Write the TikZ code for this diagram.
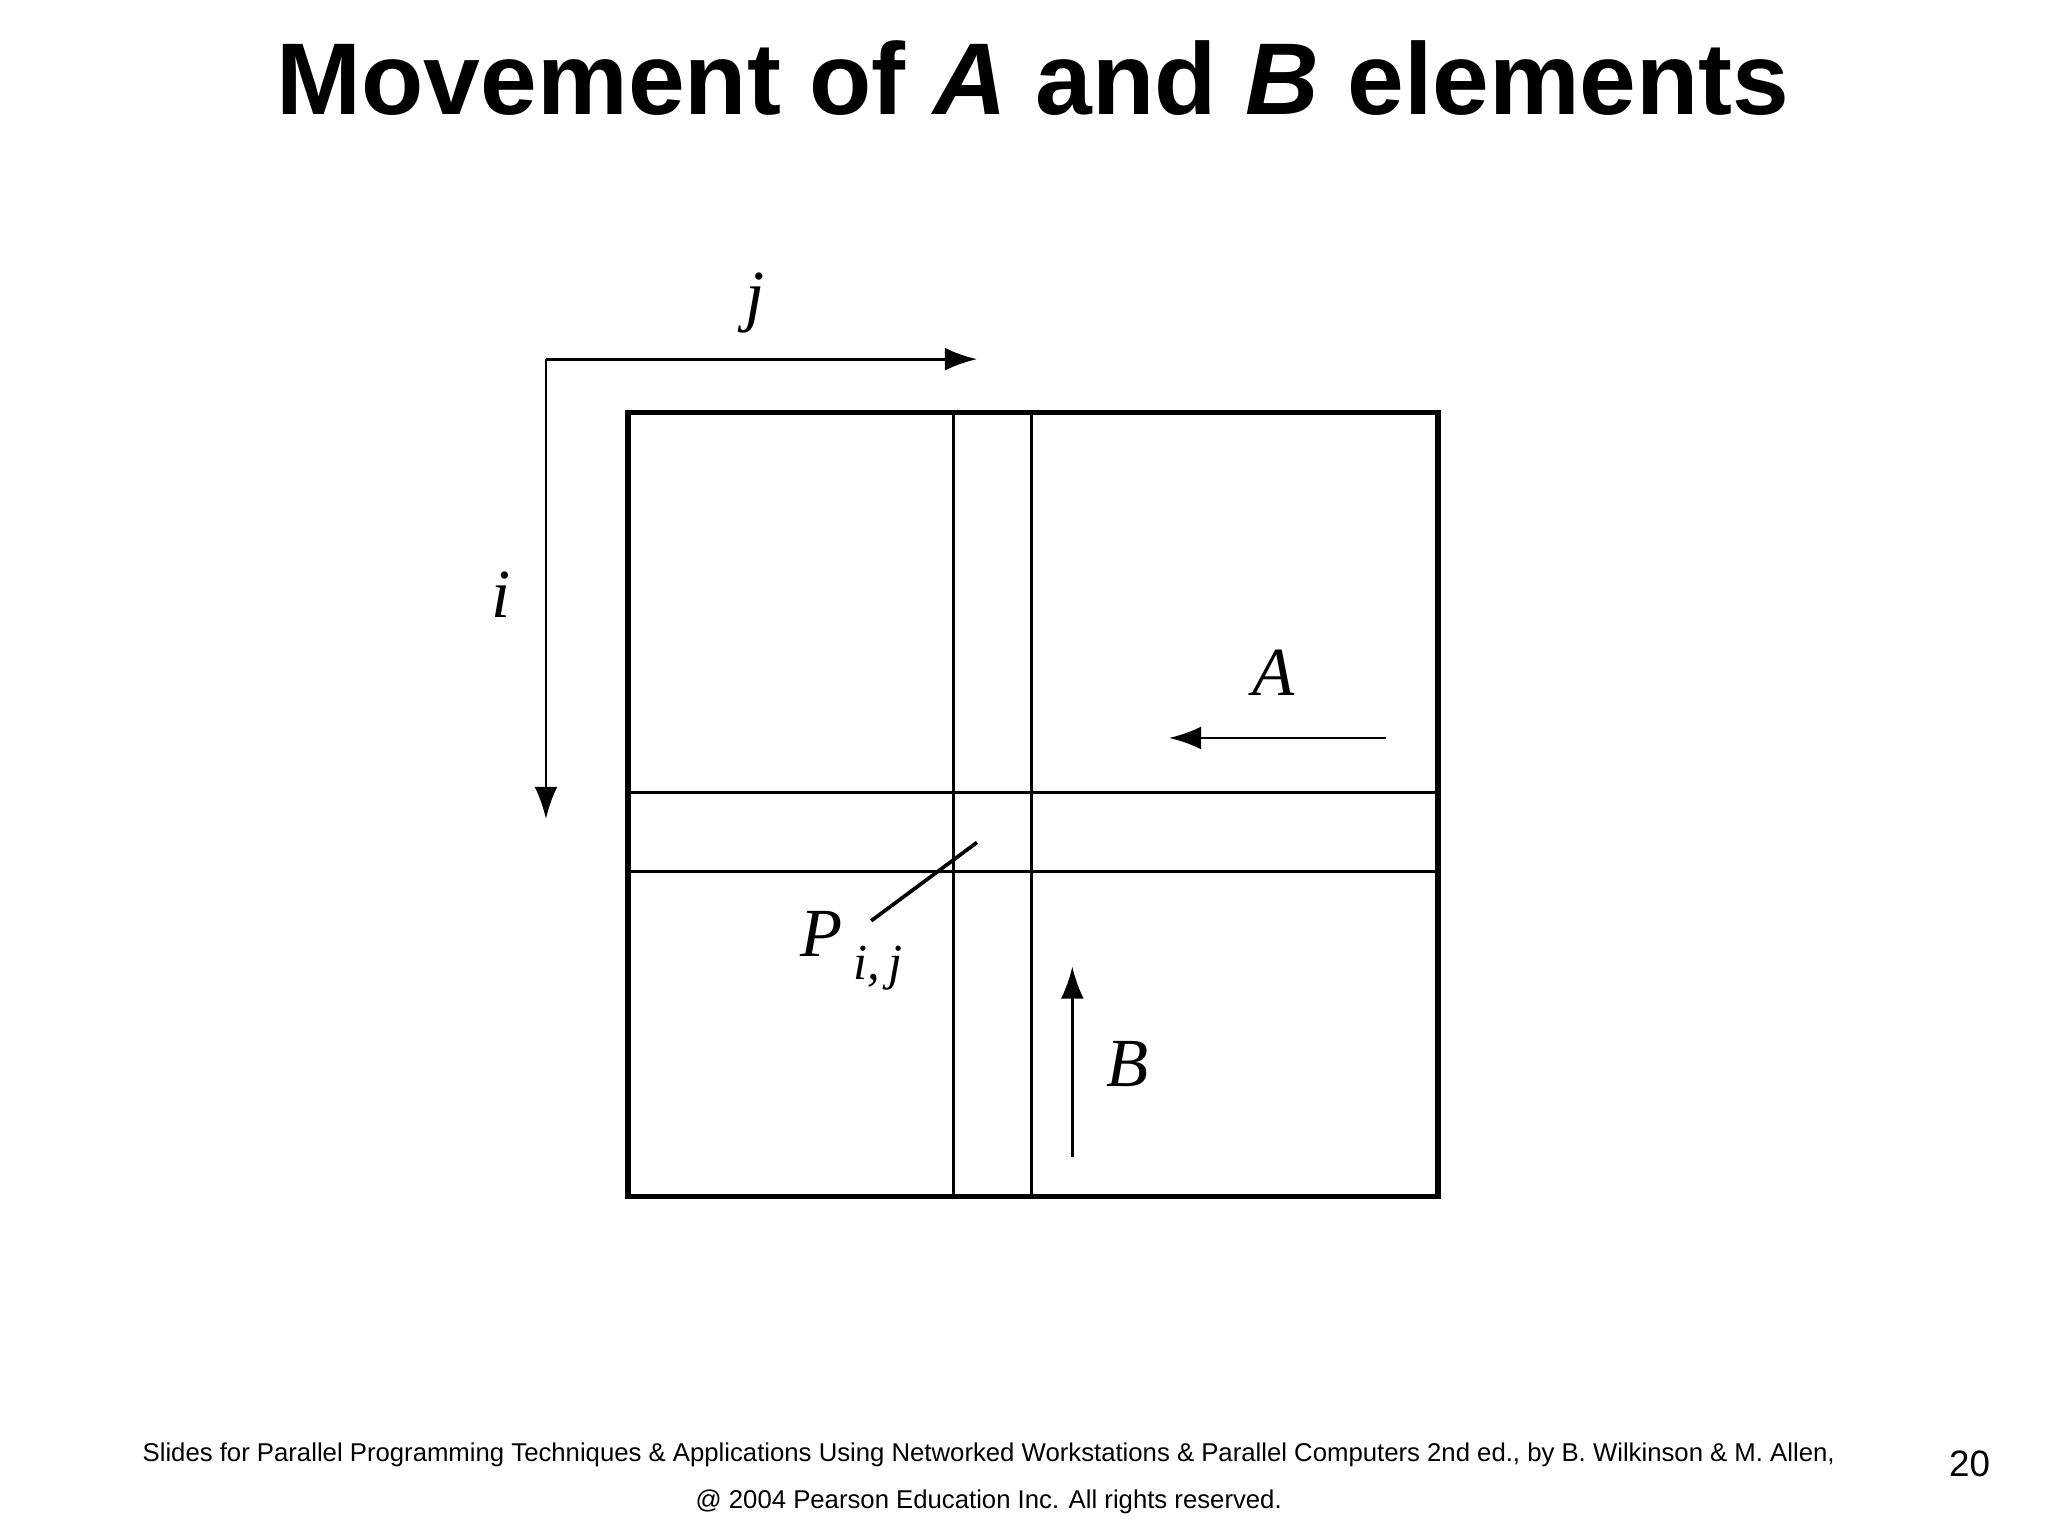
\documentclass[tikz,border=0pt]{standalone}
\usepackage{fontspec}
\setmainfont{Liberation Sans}
\newfontfamily\lblfont{Liberation Serif}
\usetikzlibrary{arrows.meta}
\begin{document}
\begin{tikzpicture}[x=0.01cm,y=-0.01cm,
  arr/.style={line width=0.6pt,-{Latex[length=7pt,width=5pt]}},
  lbl/.style={font=\lblfont\fontsize{15}{15}\selectfont\itshape,inner sep=0pt}]
\useasboundingbox (0,0) rectangle (1568,1176);
\node[font=\fontsize{22.2}{26}\selectfont\bfseries] (title) at (791,60) {Movement of \textit{A} and \textit{B} elements};
% grid
\draw[line width=1.2pt] (481,316) rectangle (1101,916);
\draw[line width=0.6pt] (730,316) -- (730,916) (790,316) -- (790,916)
  (481,607) -- (1101,607) (481,667) -- (1101,667);
% axes
\coordinate (o) at (418,275);
\coordinate (je) at (748,275);
\coordinate (ie) at (418,627);
\draw[arr] (o) -- (je);
\draw[arr] (o) -- (ie);
\node[lbl] (j) at (578,232) {j};
\node[lbl] (i) at (384,455) {i};
% A
\coordinate (as) at (1061,565); \coordinate (ae) at (895,565);
\draw[arr] (as) -- (ae);
\node[lbl] (A) at (975,515) {A};
% B
\coordinate (bs) at (821,886); \coordinate (be) at (821,740);
\draw[arr] (bs) -- (be);
\node[lbl] (B) at (863,815) {B};
% P
\node[lbl,anchor=west] (P) at (612,728) {P\,\raisebox{-5pt}{\fontsize{11}{11}\selectfont i,\,j}};
\coordinate (pe) at (748,645);
\draw[line width=0.8pt] (667,705) -- (pe);
% footer
\node[font=\fontsize{5.6}{6}\selectfont] (f1) at (757,1114) {Slides for Parallel Programming Techniques \& Applications Using Networked Workstations \& Parallel Computers 2nd ed., by B. Wilkinson \& M. Allen,};
\node[font=\fontsize{5.6}{6}\selectfont] (f2) at (757,1150) {@ 2004 Pearson Education Inc. All rights reserved.};
\node[font=\fontsize{8}{9}\selectfont] (num) at (1508,1121) {20};
\end{tikzpicture}
\end{document}
